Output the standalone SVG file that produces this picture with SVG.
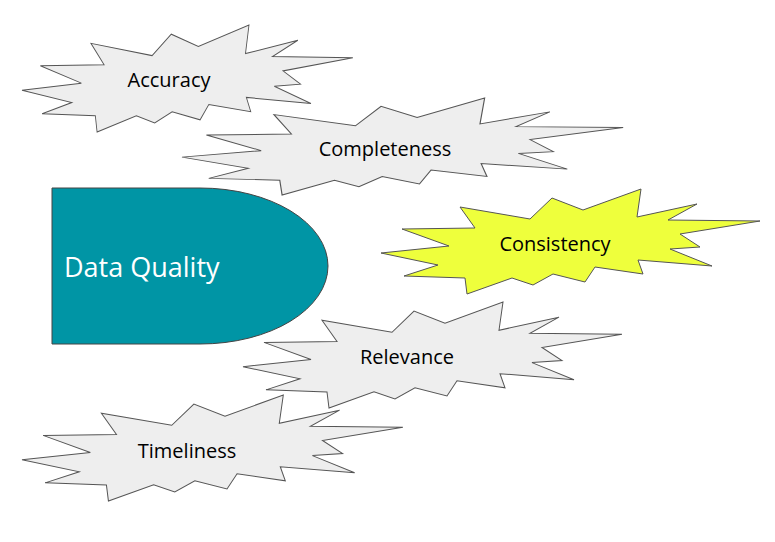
<svg xmlns="http://www.w3.org/2000/svg" xmlns:xlink="http://www.w3.org/1999/xlink" width="775" height="542" viewBox="0 0 775 542">
<style>
.star{stroke:#555;stroke-width:1;}
.lbl{font-family:"Open Sans","Liberation Sans",sans-serif;font-size:20px;fill:#000;text-anchor:middle;}
</style>
<defs>
<path id="burst" d="M79,18 L94,39 L21,40 L68,57 L0,64 L57,76 L23,87 L84,89 L86,105 L131,89 L152,96 L172,85 L204,93 L214,78 L262,85 L257,71 L331,77 L289,60 L319,58 L299,45 L379,32 L287,31 L316,15 L256,28 L260,0 L202,21 L171,9 L149,30 Z"/>
</defs>
<rect width="775" height="542" fill="#fff"/>
<g id="data-quality">
<path d="M52,188 H200 A128,78 0 0 1 200,344 H52 Z" fill="#0095A5" stroke="#444" stroke-width="1"/>
<text x="64" y="277" style="font-family:'Open Sans','Liberation Sans',sans-serif;font-size:27px;fill:#fff">Data Quality</text>
</g>
<g id="accuracy">
<use xlink:href="#burst" class="star" fill="#eeeeee" transform="translate(22,25) scale(0.873,1.02)"/>
<text class="lbl" x="169" y="87">Accuracy</text>
</g>
<g id="completeness">
<use xlink:href="#burst" class="star" fill="#eeeeee" transform="translate(182,98) scale(1.164,0.924)"/>
<text class="lbl" x="385" y="156">Completeness</text>
</g>
<g id="consistency">
<use xlink:href="#burst" class="star" fill="#eeff3c" transform="translate(381,189)"/>
<text class="lbl" x="555" y="251">Consistency</text>
</g>
<g id="relevance">
<use xlink:href="#burst" class="star" fill="#eeeeee" transform="translate(243,302) scale(1,1.01)"/>
<text class="lbl" x="407" y="364">Relevance</text>
</g>
<g id="timeliness">
<use xlink:href="#burst" class="star" fill="#eeeeee" transform="translate(22,395) scale(1.005,1.01)"/>
<text class="lbl" x="187" y="458">Timeliness</text>
</g>
<g id="connectors"/>
</svg>
